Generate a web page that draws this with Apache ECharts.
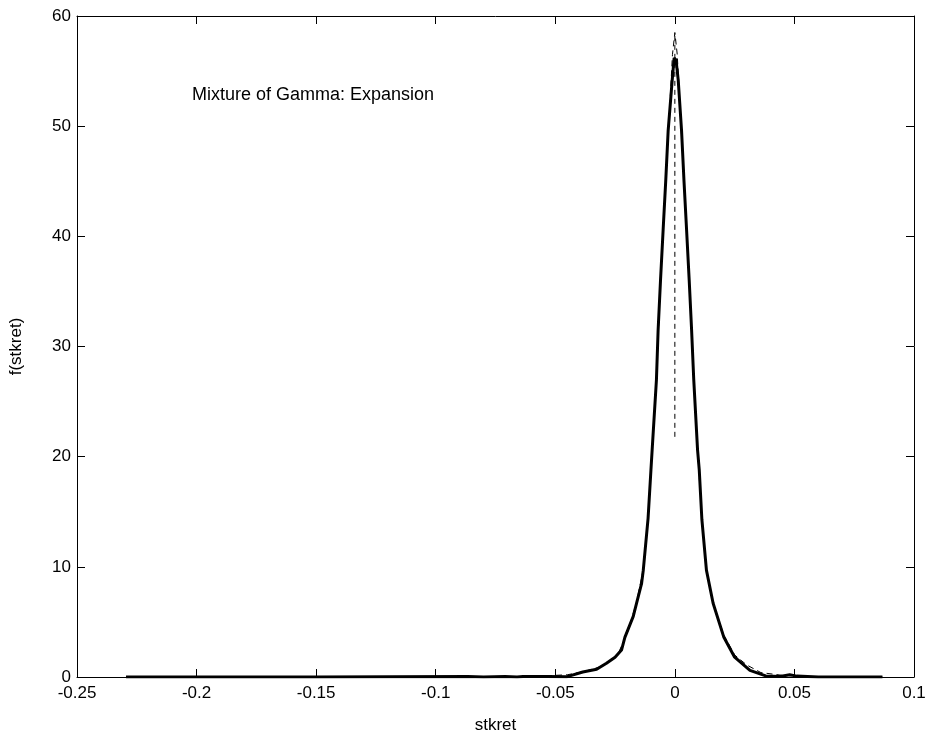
<!DOCTYPE html>
<html>
<head>
<meta charset="utf-8">
<script src="https://cdn.jsdelivr.net/npm/echarts@6/dist/echarts.min.js"></script>
<style>html,body{margin:0;padding:0;background:#fff;}#c{width:930px;height:742px;}</style>
</head>
<body>
<div id="c"></div>
<script>
const xTicks = [-0.25, -0.2, -0.15, -0.1, -0.05, 0, 0.05, 0.1];
const yTicks = [0, 10, 20, 30, 40, 50, 60];

const solidX = [-0.2295, -0.15, -0.0865, -0.08, -0.071, -0.066, -0.0635, -0.06, -0.0535, -0.045, -0.0385, -0.0327, -0.0286, -0.025, -0.0223, -0.0209, -0.0174, -0.016, -0.0139, -0.0132, -0.0112, -0.0100, -0.0095, -0.0077, -0.007, -0.006, -0.0049, -0.0038, -0.0028, -0.0011, -0.0003, 0.0005, 0.0014, 0.0028, 0.0038, 0.0049, 0.006, 0.007, 0.0079, 0.0095, 0.0102, 0.0113, 0.0132, 0.016, 0.0205, 0.025, 0.0314, 0.038, 0.044, 0.048, 0.051, 0.06, 0.0868];
const solidY = [0, 0, 0.04, 0, 0.04, 0, 0.04, 0.04, 0.04, 0.03, 0.45, 0.7, 1.25, 1.8, 2.45, 3.6, 5.5, 6.7, 8.5, 9.7, 14.4, 18.8, 20.6, 27.0, 31.5, 36.0, 40.6, 45.1, 49.6, 54.2, 56.2, 56.0, 54.2, 49.6, 45.1, 40.6, 36.0, 31.5, 27.0, 20.6, 18.8, 14.3, 9.7, 6.7, 3.6, 1.8, 0.6, 0.1, 0.05, 0.2, 0.08, 0, 0];

const dashX = [-0.2295, -0.1, -0.06, -0.045, -0.038, -0.03, -0.024, -0.02, -0.016, -0.0132, -0.0112, -0.0095, -0.0077, -0.006, -0.0038, -0.0022, -0.001, 0, 0.001, 0.0022, 0.0038, 0.006, 0.0079, 0.0095, 0.0113, 0.0132, 0.016, 0.0205, 0.025, 0.03, 0.036, 0.045, 0.06, 0.0868];
const dashY = [0, 0, 0.05, 0.2, 0.5, 1.0, 2.0, 3.9, 6.8, 9.8, 14.4, 20.6, 27.0, 36.0, 45.1, 51.5, 56.5, 58.5, 56.5, 51.5, 45.1, 36.0, 27.0, 20.6, 14.3, 9.7, 6.7, 3.8, 2.0, 1.1, 0.4, 0.15, 0, 0];

const spikeX = [0, 0];
const spikeY = [21.8, 58.5];

const labelText = 'Mixture of Gamma: Expansion';
const xName = 'stkret';
const yName = 'f(stkret)';

const zip = (a, b) => a.map((v, i) => [v, b[i]]);
const fmt = v => String(parseFloat(Number(v).toFixed(4)));
const font = 'Liberation Sans, Arial, sans-serif';

const chart = echarts.init(document.getElementById('c'), null, {renderer: 'canvas'});
const axisCommon = {
  axisLine: {show: true, onZero: false, lineStyle: {color: '#000', width: 1}},
  axisTick: {show: true, inside: true, length: 8, lineStyle: {color: '#000'}},
  splitLine: {show: false},
  axisLabel: {color: '#000', fontSize: 17, fontFamily: font}
};
chart.setOption({
  animation: false,
  backgroundColor: '#fff',
  grid: {left: 77, right: 16, top: 16, bottom: 65, containLabel: false},
  xAxis: [
    Object.assign({}, axisCommon, {type: 'value', min: xTicks[0], max: xTicks[xTicks.length-1], interval: 0.05, position: 'bottom',
      name: xName, nameLocation: 'middle', nameGap: 40, nameTextStyle: {color: '#000', fontSize: 17, fontFamily: font},
      axisLabel: Object.assign({}, axisCommon.axisLabel, {margin: 8, formatter: fmt})}),
    Object.assign({}, axisCommon, {type: 'value', min: xTicks[0], max: xTicks[xTicks.length-1], interval: 0.05, position: 'top',
      axisLabel: {show: false}})
  ],
  yAxis: [
    Object.assign({}, axisCommon, {type: 'value', min: yTicks[0], max: yTicks[yTicks.length-1], interval: 10, position: 'left',
      name: yName, nameLocation: 'middle', nameGap: 52, nameTextStyle: {color: '#000', fontSize: 17, fontFamily: font},
      axisLabel: Object.assign({}, axisCommon.axisLabel, {margin: 6, formatter: fmt})}),
    Object.assign({}, axisCommon, {type: 'value', min: yTicks[0], max: yTicks[yTicks.length-1], interval: 10, position: 'right',
      axisLabel: {show: false}})
  ],
  series: [
    {type: 'line', xAxisIndex: 0, yAxisIndex: 0, data: zip(dashX, dashY), showSymbol: false, symbol: 'none',
      lineStyle: {color: '#000', width: 1, type: [6, 4]}, z: 2},
    {type: 'line', xAxisIndex: 0, yAxisIndex: 0, data: zip(solidX, solidY), showSymbol: false, symbol: 'none',
      lineStyle: {color: '#000', width: 3}, z: 3},
    {type: 'line', xAxisIndex: 0, yAxisIndex: 0, data: zip(spikeX, spikeY), showSymbol: false, symbol: 'none',
      lineStyle: {color: '#000', width: 1, type: [5, 4]}, z: 4}
  ],
  graphic: [
    {type: 'text', left: 192, top: 86, style: {text: labelText, fill: '#000', fontSize: 18, fontFamily: font}}
  ]
});
</script>
</body>
</html>
